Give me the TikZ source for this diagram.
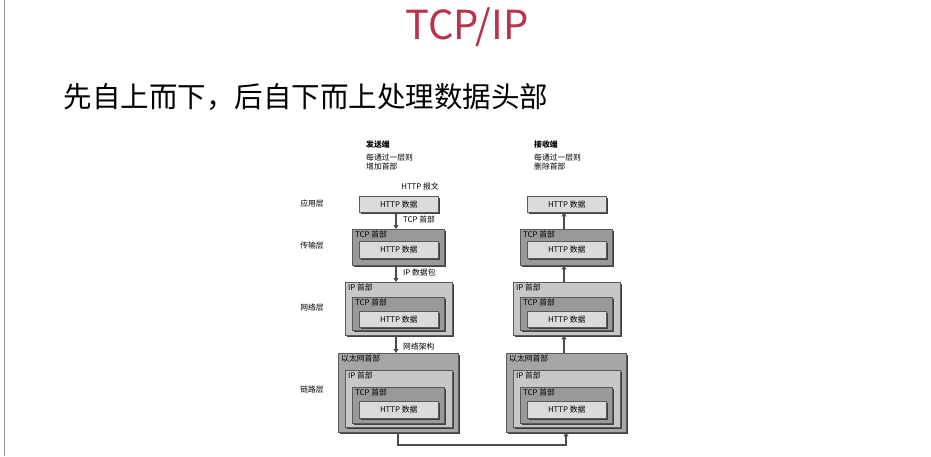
\documentclass[tikz,border=0pt]{standalone}
\usepackage{fontspec}
\setmainfont{Noto Sans CJK SC}
\usetikzlibrary{shadows,arrows.meta}
\definecolor{titlered}{HTML}{B8334A}
\tikzset{
 bx/.style={draw=gray!70!black,line width=0.4pt,anchor=north west,inner sep=0pt,
   drop shadow={shadow xshift=1.6pt,shadow yshift=-1.6pt,fill=black!75,opacity=1}},
 hd/.style={anchor=north west,inner sep=0pt,font=\fontsize{7.8}{9}\selectfont},
 ctr/.style={inner sep=0pt,font=\fontsize{7.8}{9}\selectfont},
 lbl/.style={inner sep=0pt,font=\fontsize{7.8}{9}\selectfont},
 ar/.style={line width=1.2pt,draw=black!70,-{Triangle[length=4pt,width=5pt]}},
}
\newcommand\bx[6]{\node[bx,fill=#6,minimum width=#4pt,minimum height=#5pt] (#1) at (#2,#3) {};}
\begin{document}
\begin{tikzpicture}[x=1pt,y=-1pt]
\useasboundingbox[fill=white] (0,0) rectangle (931,456);
\draw[black!40] (4,0) -- (4,456);
\node[text=titlered,font=\fontsize{40}{44}\selectfont] (title) at (467,27) {TCP/IP};
\node[anchor=west,font=\fontsize{28.5}{32}\selectfont] (sub) at (60,97) {先自上而下，后自下而上处理数据头部};
% left texts
\node[lbl,anchor=north west,font=\bfseries\fontsize{7.8}{9}\selectfont] (snd) at (366,141) {发送端};
\node[lbl,anchor=north west,align=left] (snd2) at (366,154) {每通过一层则\\[0pt]增加首部};
\node[lbl,anchor=north west,font=\bfseries\fontsize{7.8}{9}\selectfont] (rcv) at (534,141) {接收端};
\node[lbl,anchor=north west,align=left] (rcv2) at (534,154) {每通过一层则\\[0pt]删除首部};
\node[lbl] (msg) at (420,187) {HTTP 报文};
\node[lbl] (l1) at (312,204) {应用层};
\node[lbl] (l2) at (312,246) {传输层};
\node[lbl] (l3) at (312,308) {网络层};
\node[lbl] (l4) at (312,390) {链路层};
\foreach \s/\o in {L/0,R/168}{
 \bx{app\s}{359+\o}{196}{79}{16}{black!14}
 \node[ctr] at (app\s.center) {HTTP 数据};
 \bx{tr\s}{352+\o}{229}{92}{36}{black!40}
 \node[hd] at (355+\o,231) {TCP 首部};
 \bx{trh\s}{359+\o}{241}{79}{17}{black!14}
 \node[ctr] at (trh\s.center) {HTTP 数据};
 \bx{nw\s}{345+\o}{282}{107}{53}{black!22}
 \node[hd] at (348+\o,284) {IP 首部};
 \bx{nwt\s}{352+\o}{297}{92}{33}{black!40}
 \node[hd] at (355+\o,299) {TCP 首部};
 \bx{nwh\s}{359+\o}{311}{79}{16}{black!14}
 \node[ctr] at (nwh\s.center) {HTTP 数据};
 \bx{lk\s}{338+\o}{353}{120}{79}{black!35}
 \node[hd] at (341+\o,355) {以太网首部};
 \bx{lki\s}{345+\o}{370}{107}{57}{black!22}
 \node[hd] at (348+\o,372) {IP 首部};
 \bx{lkt\s}{352+\o}{387}{92}{36}{black!40}
 \node[hd] at (355+\o,389) {TCP 首部};
 \bx{lkh\s}{359+\o}{401}{79}{17}{black!14}
 \node[ctr] at (lkh\s.center) {HTTP 数据};
}
\draw[ar] (appL.south -| 396,0) -- (trL.north -| 396,0);
\draw[ar] (trL.south -| 396,0) -- (nwL.north -| 396,0);
\draw[ar] (nwL.south -| 396,0) -- (lkL.north -| 396,0);
\node[lbl,anchor=west] (a1) at (403,220) {TCP 首部};
\node[lbl,anchor=west] (a2) at (403,273) {IP 数据包};
\node[lbl,anchor=west] (a3) at (403,346) {网络架构};
\draw[ar] (lkR.north -| 564,0) -- (nwR.south -| 564,0);
\draw[ar] (nwR.north -| 564,0) -- (trR.south -| 564,0);
\draw[ar] (trR.north -| 564,0) -- (appR.south -| 564,0);
\coordinate (b1) at (398,445);
\coordinate (b2) at (566,445);
\draw[ar] (lkL.south -| 398,0) -- (b1) -- (b2) -- (lkR.south -| 566,0);
\end{tikzpicture}
\end{document}
